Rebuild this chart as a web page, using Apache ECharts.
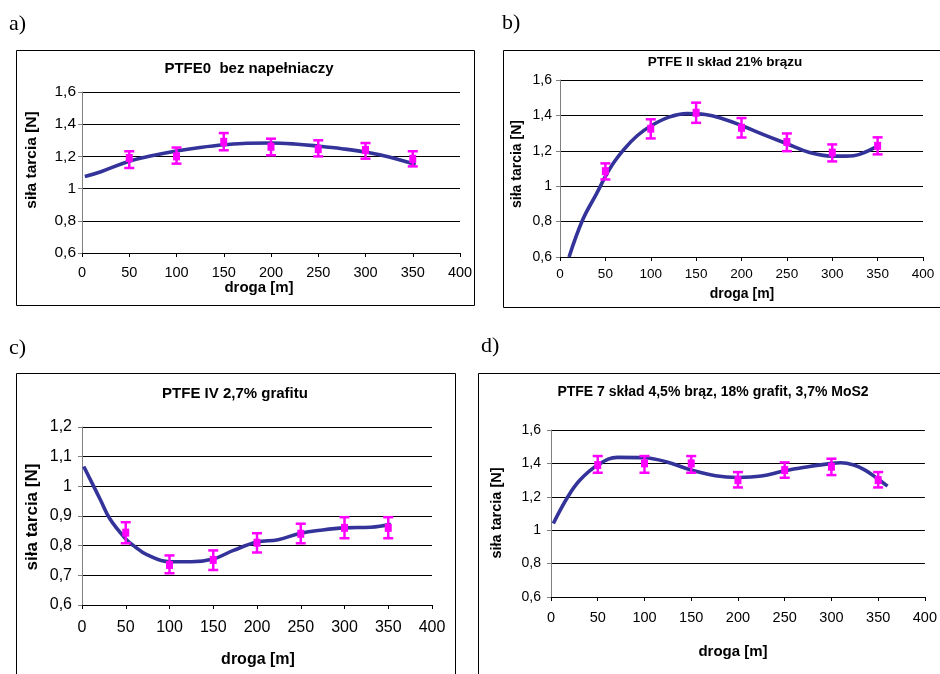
<!DOCTYPE html>
<html><head><meta charset="utf-8">
<script src="https://cdn.jsdelivr.net/npm/echarts/dist/echarts.min.js"></script>
<style>html,body{margin:0;padding:0;background:#fff}#c{width:940px;height:674px}</style>
</head><body><div id="c"></div>
<script>
// ---- data ----
const xTicksMin = 0, xTicksMax = 400, xTickStep = 50;
const errX = [50, 100, 150, 200, 250, 300, 350];

// a) PTFE0
const aLo   = [1.128, 1.155, 1.238, 1.207, 1.200, 1.186, 1.138];
const aHi   = [1.232, 1.255, 1.345, 1.310, 1.300, 1.283, 1.232];
const aMean = [1.19, 1.20, 1.29, 1.26, 1.245, 1.24, 1.185];
const aCurveX = [3, 20, 50, 75, 100, 125, 150, 175, 200, 225, 250, 275, 300, 325, 353];
const aCurveY = [1.075, 1.105, 1.17, 1.205, 1.233, 1.255, 1.272, 1.282, 1.283, 1.277, 1.264, 1.248, 1.227, 1.196, 1.15];

// b) PTFE II
const bLo   = [1.038, 1.270, 1.358, 1.275, 1.198, 1.140, 1.180];
const bHi   = [1.129, 1.378, 1.472, 1.385, 1.298, 1.236, 1.276];
const bMean = [1.085, 1.325, 1.415, 1.33, 1.25, 1.19, 1.228];
const bCurveX = [10, 25, 40, 55, 70, 85, 100, 120, 140, 160, 180, 200, 225, 250, 275, 300, 315, 330, 353];
const bCurveY = [0.6, 0.81, 0.955, 1.10, 1.205, 1.285, 1.34, 1.39, 1.41, 1.405, 1.38, 1.343, 1.29, 1.24, 1.19, 1.17, 1.17, 1.18, 1.235];

// c) PTFE IV
const cLo   = [0.808, 0.707, 0.718, 0.777, 0.808, 0.825, 0.825];
const cHi   = [0.879, 0.767, 0.784, 0.842, 0.874, 0.896, 0.896];
const cMean = [0.844, 0.735, 0.752, 0.81, 0.84, 0.86, 0.86];
const cCurveX = [2, 21, 32, 50, 59, 74, 100, 125, 150, 173, 200, 224, 250, 275, 300, 330, 353];
const cCurveY = [1.067, 0.955, 0.89, 0.823, 0.80, 0.77, 0.746, 0.746, 0.755, 0.784, 0.812, 0.82, 0.842, 0.853, 0.86, 0.862, 0.872];

// d) PTFE 7
const dLo   = [1.344, 1.344, 1.344, 1.256, 1.314, 1.330, 1.256];
const dHi   = [1.444, 1.444, 1.444, 1.348, 1.406, 1.428, 1.348];
const dMean = [1.39, 1.40, 1.40, 1.30, 1.36, 1.38, 1.30];
const dCurveX = [2.5, 18, 31, 50, 71, 100, 123, 150, 176, 200, 225, 250, 275, 300, 310, 324, 336, 349, 360];
const dCurveY = [1.04, 1.2, 1.30, 1.39, 1.436, 1.434, 1.41, 1.36, 1.326, 1.316, 1.324, 1.356, 1.38, 1.40, 1.404, 1.39, 1.36, 1.31, 1.264];

const titles = ['PTFE0  bez napełniaczy', 'PTFE II skład 21% brązu', 'PTFE IV 2,7% grafitu', 'PTFE 7 skład 4,5% brąz, 18% grafit, 3,7% MoS2'];
const yName = 'siła tarcia [N]';
const xName = 'droga [m]';
const panelLabels = ['a)', 'b)', 'c)', 'd)'];
const yRanges = [[0.6, 1.6, 0.2], [0.6, 1.6, 0.2], [0.6, 1.2, 0.1], [0.6, 1.6, 0.2]];

// ---- layout ----
const panels = [
  {lo: aLo, hi: aHi, m: aMean, cx: aCurveX, cy: aCurveY, grid: {left: 82, top: 92, width: 378, height: 161}, fs: 14.5, yfs: 15.5, xm: 12, ym: 6,
   title: [249, 69, 15], yn: [32, 160, 15.5], xn: [259, 288, 15], frame: [16.5, 50.5, 458, 255], pl: [9, 24]},
  {lo: bLo, hi: bHi, m: bMean, cx: bCurveX, cy: bCurveY, grid: {left: 560, top: 80, width: 363, height: 177}, fs: 13.5, yfs: 14, xm: 10, ym: 8,
   title: [725, 62, 13.5], yn: [517, 164, 14], xn: [742, 294, 14], frame: [503.5, 50.5, 440, 257], pl: [502, 23]},
  {lo: cLo, hi: cHi, m: cMean, cx: cCurveX, cy: cCurveY, grid: {left: 82, top: 427, width: 350, height: 178}, fs: 16, yfs: 16, xm: 15, ym: 10,
   title: [235, 394, 15], yn: [32, 517, 17], xn: [258, 660, 16], frame: [16.5, 373.5, 439, 320], pl: [9, 348]},
  {lo: dLo, hi: dHi, m: dMean, cx: dCurveX, cy: dCurveY, grid: {left: 551, top: 430, width: 377, height: 167}, fs: 14.5, yfs: 14, xm: 13, ym: 10,
   title: [713, 392, 14], yn: [497, 513, 14.5], xn: [733, 652, 15], frame: [478.5, 373.5, 470, 320], pl: [481, 346]}
];

const FONT = '"Liberation Sans", Arial, sans-serif';
const fmtY = v => String(+(+v).toFixed(1)).replace('.', ',');

function errRender(params, api) {
  const x = api.value(0);
  const p1 = api.coord([x, api.value(1)]);
  const p2 = api.coord([x, api.value(2)]);
  const pm = api.coord([x, api.value(3)]);
  const hw = 5;
  const st = {stroke: '#ff00ff', lineWidth: 2.5};
  return {type: 'group', children: [
    {type: 'line', shape: {x1: p1[0], y1: p1[1], x2: p2[0], y2: p2[1]}, style: st},
    {type: 'line', shape: {x1: p1[0] - hw, y1: p1[1], x2: p1[0] + hw, y2: p1[1]}, style: st},
    {type: 'line', shape: {x1: p2[0] - hw, y1: p2[1], x2: p2[0] + hw, y2: p2[1]}, style: st},
    {type: 'rect', shape: {x: pm[0] - 3.5, y: pm[1] - 4, width: 7, height: 8}, style: {fill: '#ff00ff'}}
  ]};
}

const grids = [], xAxes = [], yAxes = [], series = [], graphics = [];
panels.forEach((p, i) => {
  grids.push(Object.assign({}, p.grid));
  xAxes.push({
    type: 'value', gridIndex: i, min: xTicksMin, max: xTicksMax, interval: xTickStep,
    axisLine: {show: true, onZero: false, lineStyle: {color: '#000', width: 1}},
    axisTick: {show: true, length: 4, lineStyle: {color: '#000'}},
    splitLine: {show: false},
    axisLabel: {fontSize: p.fs, color: '#000', fontFamily: FONT, margin: p.xm}
  });
  yAxes.push({
    type: 'value', gridIndex: i, min: yRanges[i][0], max: yRanges[i][1], interval: yRanges[i][2],
    axisLine: {show: true, lineStyle: {color: '#808080', width: 1}},
    axisTick: {show: true, length: 4, lineStyle: {color: '#808080'}},
    splitLine: {show: true, lineStyle: {color: '#000', width: 1}},
    axisLabel: {fontSize: p.yfs, color: '#000', fontFamily: FONT, margin: p.ym, formatter: fmtY}
  });
  series.push({
    type: 'line', xAxisIndex: i, yAxisIndex: i, smooth: 0.4, showSymbol: false, symbol: 'none',
    lineStyle: {color: '#333399', width: 3.6}, z: 2,
    data: p.cx.map((x, k) => [x, p.cy[k]])
  });
  series.push({
    type: 'custom', xAxisIndex: i, yAxisIndex: i, renderItem: errRender, z: 3,
    encode: {x: 0, y: [1, 2, 3]},
    data: errX.map((x, k) => [x, p.lo[k], p.hi[k], p.m[k]])
  });
  graphics.push({type: 'rect', shape: {x: p.frame[0], y: p.frame[1], width: p.frame[2], height: p.frame[3]},
    style: {fill: null, stroke: '#000', lineWidth: 1}, z: 0, silent: true});
  graphics.push({type: 'text', x: p.title[0], y: p.title[1], style: {text: titles[i], fontSize: p.title[2], fontWeight: 'bold', fontFamily: FONT, fill: '#000', align: 'center', verticalAlign: 'middle'}});
  graphics.push({type: 'text', x: p.yn[0], y: p.yn[1], rotation: Math.PI / 2, style: {text: yName, fontSize: p.yn[2], fontWeight: 'bold', fontFamily: FONT, fill: '#000', align: 'center', verticalAlign: 'middle'}});
  graphics.push({type: 'text', x: p.xn[0], y: p.xn[1], style: {text: xName, fontSize: p.xn[2], fontWeight: 'bold', fontFamily: FONT, fill: '#000', align: 'center', verticalAlign: 'middle'}});
  graphics.push({type: 'text', x: p.pl[0], y: p.pl[1], style: {text: panelLabels[i], fontSize: 22, fontFamily: '"Liberation Serif", "Times New Roman", serif', fill: '#000', align: 'left', verticalAlign: 'middle'}});
});

const chart = echarts.init(document.getElementById('c'), null, {renderer: 'canvas'});
chart.setOption({
  animation: false,
  backgroundColor: '#fff',
  grid: grids, xAxis: xAxes, yAxis: yAxes, series: series,
  graphic: graphics
});
</script></body></html>
